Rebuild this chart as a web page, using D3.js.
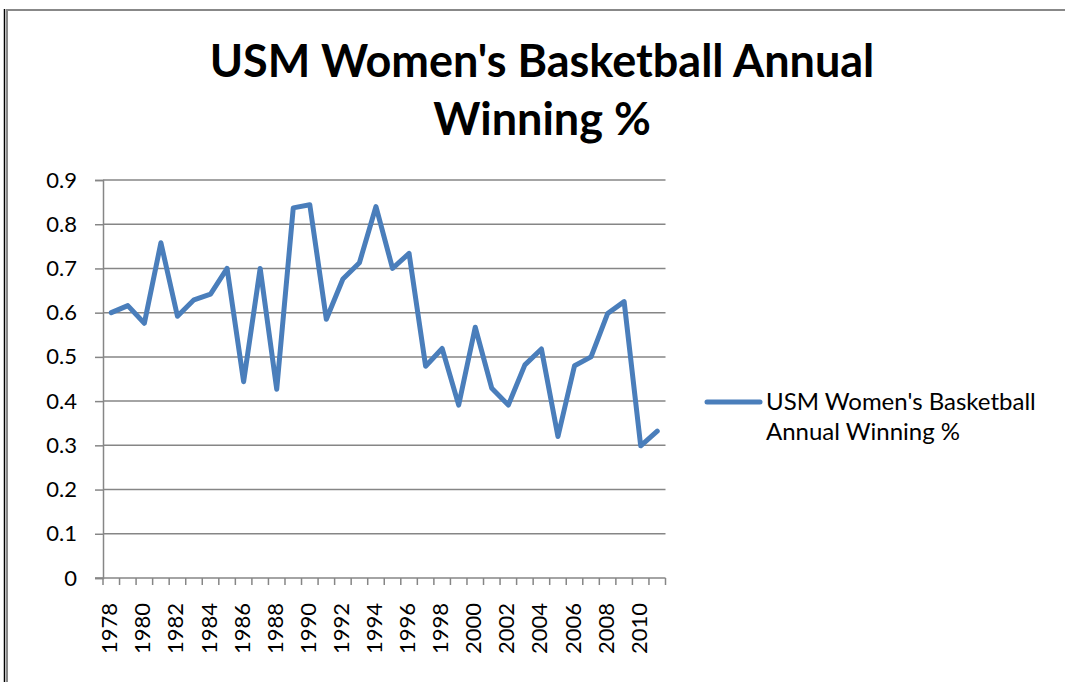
<!DOCTYPE html>
<html>
<head>
<meta charset="utf-8">
<script src="https://cdn.jsdelivr.net/npm/d3@7"></script>
<style>
body { margin: 0; background: #fff; }
#canvas { width: 1065px; height: 682px; }
</style>
</head>
<body>
<div id="canvas"></div>
<script>
// data
var years = [1978,1979,1980,1981,1982,1983,1984,1985,1986,1987,1988,1989,1990,1991,1992,1993,1994,
	1995,1996,1997,1998,1999,2000,2001,2002,2003,2004,2005,2006,2007,2008,2009,2010,2011];
var winPct = [0.600,0.616,0.576,0.758,0.592,0.629,0.642,0.700,0.444,0.700,0.427,0.837,0.844,0.585,0.676,0.713,0.840,
	0.700,0.734,0.479,0.519,0.391,0.567,0.429,0.391,0.482,0.518,0.320,0.480,0.500,0.598,0.625,0.299,0.332];
var yTicks = [0,0.1,0.2,0.3,0.4,0.5,0.6,0.7,0.8,0.9];
var titleLines = ["USM Women's Basketball Annual", "Winning %"];
var legendLines = ["USM Women's Basketball", "Annual Winning %"];

var w = 1065, h = 682;
var plotLeft = 103, plotRight = 665.5, plotTop = 180, plotBottom = 578;
var font = "Lato, 'Open Sans', sans-serif";
var lineColor = "#4a7ebb";

var svg = d3.select("#canvas").append("svg")
	.attr("width", w)
	.attr("height", h);

// chart frame
svg.append("line").attr("x1", 4.5).attr("x2", 4.5).attr("y1", 9).attr("y2", h)
	.attr("stroke", "#000").attr("stroke-width", 1.5);
svg.append("path")
	.attr("d", "M7," + h + "V10H" + w)
	.attr("fill", "none").attr("stroke", "#888").attr("stroke-width", 2);

// title
svg.append("g").selectAll("text")
	.data(titleLines)
	.enter()
	.append("text")
	.attr("x", 542)
	.attr("y", function(d, i){ return 77 + i * 58; })
	.attr("text-anchor", "middle")
	.attr("font-family", font)
	.attr("font-weight", "bold")
	.attr("font-size", 45)
	.attr("fill", "#000")
	.text(function(d){ return d; });

var x = d3.scaleBand()
	.domain(years)
	.range([plotLeft, plotRight]);

var y = d3.scaleLinear()
	.domain([0, 0.9])
	.range([plotBottom, plotTop]);

// gridlines
svg.append("g").selectAll("line")
	.data(yTicks.slice(1))
	.enter()
	.append("line")
	.attr("x1", plotLeft).attr("x2", plotRight)
	.attr("y1", function(d){ return y(d); })
	.attr("y2", function(d){ return y(d); })
	.attr("stroke", "#868686")
	.attr("stroke-width", 1.5);

// y axis
var yAxis = svg.append("g")
	.attr("transform", "translate(" + plotLeft + ",0)")
	.call(d3.axisLeft(y).tickValues(yTicks).tickSize(8).tickPadding(18).tickFormat(d3.format("")));
yAxis.select(".domain").attr("stroke", "#868686").attr("stroke-width", 1.5);
yAxis.selectAll(".tick line").attr("stroke", "#868686").attr("stroke-width", 1.5);
yAxis.selectAll("text")
	.attr("font-family", font)
	.attr("font-size", 22)
	.attr("fill", "#000");

// x axis: ticks at category boundaries
var xg = svg.append("g");
xg.append("line")
	.attr("x1", plotLeft - 8).attr("x2", plotRight)
	.attr("y1", plotBottom).attr("y2", plotBottom)
	.attr("stroke", "#868686").attr("stroke-width", 1.5);
xg.selectAll(".xtick")
	.data(years.concat([null]))
	.enter()
	.append("line")
	.attr("class", "xtick")
	.attr("x1", function(d, i){ return plotLeft + i * x.step(); })
	.attr("x2", function(d, i){ return plotLeft + i * x.step(); })
	.attr("y1", plotBottom).attr("y2", plotBottom + 7)
	.attr("stroke", "#868686").attr("stroke-width", 1.5);
xg.selectAll(".xlabel")
	.data(years.filter(function(d, i){ return i % 2 === 0; }))
	.enter()
	.append("text")
	.attr("class", "xlabel")
	.attr("transform", function(d){
		return "translate(" + (x(d) + x.bandwidth() / 2 + 6) + "," + 603 + ") rotate(-90)";
	})
	.attr("text-anchor", "end")
	.attr("font-family", font)
	.attr("font-size", 22)
	.attr("fill", "#000")
	.text(function(d){ return d; });

// series line
var line = d3.line()
	.x(function(d, i){ return x(years[i]) + x.bandwidth() / 2; })
	.y(function(d){ return y(d); });

svg.append("path")
	.datum(winPct)
	.attr("d", line)
	.attr("fill", "none")
	.attr("stroke", lineColor)
	.attr("stroke-width", 5)
	.attr("stroke-linejoin", "round")
	.attr("stroke-linecap", "round");

// legend
svg.append("line")
	.attr("x1", 707).attr("x2", 760)
	.attr("y1", 402).attr("y2", 402)
	.attr("stroke", lineColor)
	.attr("stroke-width", 5)
	.attr("stroke-linecap", "round");
svg.append("g").selectAll("text")
	.data(legendLines)
	.enter()
	.append("text")
	.attr("x", 766)
	.attr("y", function(d, i){ return 410 + i * 30; })
	.attr("font-family", font)
	.attr("font-size", 24)
	.attr("fill", "#000")
	.text(function(d){ return d; });
</script>
</body>
</html>
